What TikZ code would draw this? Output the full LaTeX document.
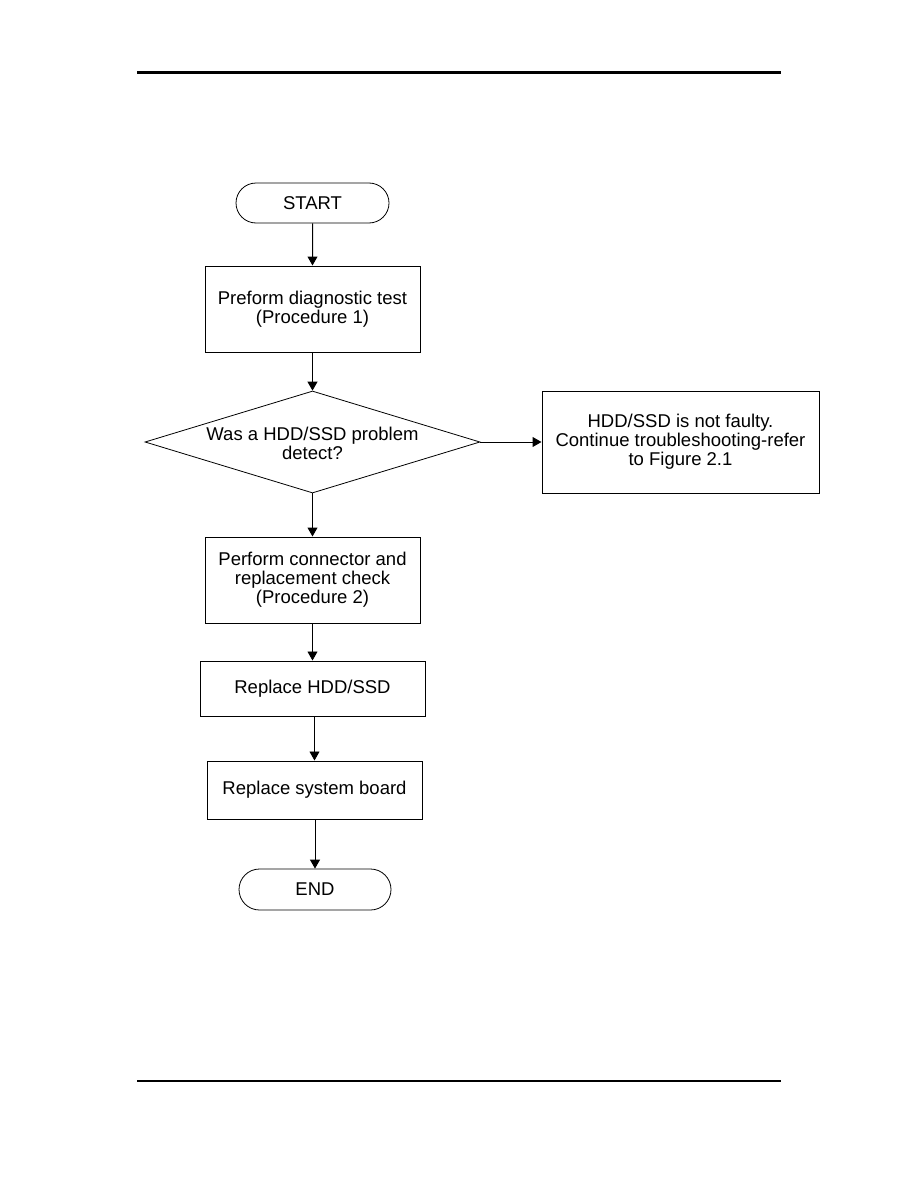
\documentclass[tikz,border=0pt]{standalone}
\usepackage{fontspec}
\setmainfont{Liberation Sans}
\usetikzlibrary{arrows.meta,shapes.geometric,shapes.misc}

\begin{document}
\begin{tikzpicture}[x=1pt, y=-1pt,
  every node/.style={font=\fontsize{18.5}{19}\selectfont, align=center},
  box/.style={draw, line width=1pt, inner sep=0pt},
  terminal/.style={draw, rounded rectangle, line width=0.8pt, inner sep=0pt,
    minimum width=153pt, minimum height=40pt},
  decision/.style={draw, diamond, aspect=3.28, line width=0.8pt, inner sep=0pt,
    minimum width=335pt, minimum height=102pt},
  flow/.style={line width=1pt, -{Triangle[length=9pt,width=10pt]}},
  thinflow/.style={line width=0.7pt, -{Triangle[length=9pt,width=10pt]}}]
  \useasboundingbox (0,0) rectangle (918,1188);
  % Page rules.
  \draw[line width=3pt] (137,73) -- (781,73);
  \draw[line width=2pt] (137,1081) -- (781,1081);
  % Flow chart boxes.
  \node[terminal] (start) at (312.5,203) {START};
  \node[box, minimum width=215pt, minimum height=86pt] (diag) at (312.5,309)
    {Preform diagnostic test\\(Procedure 1)};
  \node[decision] (detect) at (312.5,442) {};
  \node (detecttext) at (312.5,443) {Was a HDD/SSD problem\\detect?};
  \node[box, minimum width=277pt, minimum height=102pt] (notfaulty) at (680.5,442)
    {HDD/SSD is not faulty.\\Continue troubleshooting-refer\\to Figure 2.1};
  \node[box, minimum width=215pt, minimum height=86pt] (conncheck) at (312.5,580)
    {Perform connector and\\replacement check\\(Procedure 2)};
  \node[box, minimum width=225pt, minimum height=55pt] (hdd) at (312.5,688.5)
    {Replace HDD/SSD};
  \node[box, minimum width=215pt, minimum height=58pt] (board) at (314.5,790)
    {Replace system board};
  \node[terminal, minimum width=152pt, minimum height=41pt] (end) at (315,889.5) {END};
  % Connectors.
  \draw[flow] (start) -- (diag);
  \draw[flow] (diag) -- (detect);
  \draw[flow] (detect) -- (notfaulty);
  \draw[flow] (detect) -- (conncheck);
  \draw[thinflow] (conncheck) -- (hdd);
  \draw[thinflow] (board.north |- hdd.south) -- (board.north);
  \draw[flow] (board.south -| end.north) -- (end.north);
\end{tikzpicture}
\end{document}
